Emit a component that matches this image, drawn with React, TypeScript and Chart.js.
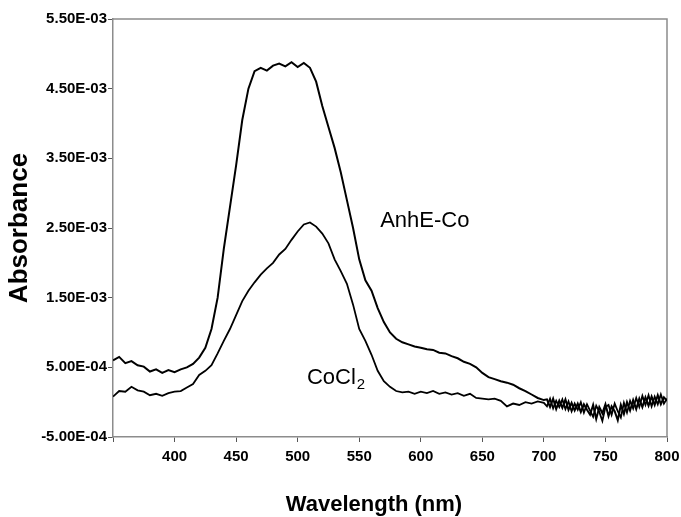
import React, { useEffect, useRef } from "react";
import { Chart, registerables } from "chart.js";

Chart.register(...registerables);

// Wavelength grid (nm)
const wavelengthsMain = [
  350, 355, 360, 365, 370, 375, 380, 385, 390, 395, 400, 405, 410, 415, 420, 425, 430, 435, 440, 445,
  450, 455, 460, 465, 470, 475, 480, 485, 490, 495, 500, 505, 510, 515, 520, 525, 530, 535, 540, 545,
  550, 555, 560, 565, 570, 575, 580, 585, 590, 595, 600, 605, 610, 615, 620, 625, 630, 635, 640, 645,
  650, 655, 660, 665, 670, 675, 680, 685, 690, 695, 700,
];
const wavelengthsTail = [
  702.5, 705, 707.5, 710, 712.5, 715, 717.5, 720, 722.5, 725, 727.5, 730, 732.5, 735, 737.5, 740, 742.5,
  745, 747.5, 750, 752.5, 755, 757.5, 760, 762.5, 765, 767.5, 770, 772.5, 775, 777.5, 780, 782.5, 785,
  787.5, 790, 792.5, 795, 797.5, 800,
];

// Absorbance values in units of 1E-03
const anheCoMain = [
  0.6, 0.65, 0.56, 0.59, 0.53, 0.51, 0.44, 0.47, 0.42, 0.46, 0.43, 0.47, 0.5, 0.55, 0.64, 0.78, 1.05, 1.5,
  2.2, 2.8, 3.4, 4.05, 4.5, 4.75, 4.8, 4.76, 4.83, 4.86, 4.82, 4.88, 4.81, 4.87, 4.8, 4.6, 4.25, 3.95,
  3.65, 3.3, 2.9, 2.5, 2.05, 1.75, 1.6, 1.35, 1.15, 1.0, 0.91, 0.86, 0.83, 0.8, 0.78, 0.76, 0.75, 0.71,
  0.7, 0.66, 0.63, 0.58, 0.55, 0.5, 0.42, 0.36, 0.33, 0.3, 0.28, 0.25, 0.2, 0.16, 0.11, 0.06, 0.03,
];
const anheCoTail = [
  0.04, -0.07, 0.05, -0.1, 0.02, -0.08, 0.04, -0.11, -0.01, -0.12, -0.02, -0.14, -0.03, -0.11, -0.18,
  -0.04, -0.24, -0.07, -0.16, -0.03, -0.2, -0.06, -0.13, -0.26, -0.04, -0.17, 0.0, -0.12, 0.03, -0.1,
  0.05, -0.07, 0.07, -0.05, 0.08, -0.04, 0.1, -0.03, 0.07, 0.02,
];
const cocl2Main = [
  0.08, 0.16, 0.15, 0.22, 0.17, 0.15, 0.1, 0.12, 0.09, 0.13, 0.15, 0.16, 0.21, 0.26, 0.39, 0.45, 0.53,
  0.7, 0.88, 1.05, 1.25, 1.45, 1.6, 1.72, 1.83, 1.92, 2.0, 2.12, 2.2, 2.33, 2.45, 2.55, 2.58, 2.52, 2.42,
  2.28, 2.05, 1.88, 1.7, 1.4, 1.05, 0.88, 0.68, 0.45, 0.3, 0.22, 0.16, 0.14, 0.15, 0.12, 0.15, 0.13, 0.16,
  0.12, 0.14, 0.11, 0.13, 0.09, 0.12, 0.06, 0.05, 0.04, 0.05, 0.02, -0.06, -0.02, -0.04, 0.0, -0.02, 0.01,
  -0.01,
];
const cocl2Tail = [
  -0.06, 0.05, -0.09, 0.02, -0.07, 0.04, -0.1, 0.01, -0.13, -0.02, -0.11, 0.0, -0.15, -0.03, -0.12,
  -0.21, -0.05, -0.14, -0.27, -0.07, -0.04, -0.18, -0.02, -0.13, -0.22, -0.01, -0.15, 0.02, -0.09, 0.06,
  -0.07, 0.09, -0.04, 0.1, -0.06, 0.08, -0.03, 0.11, -0.02, 0.05,
];
const VALUE_UNIT = 1e-3;

const seriesNames = ["AnhE-Co", "CoCl2"];
const xTickValues = [400, 450, 500, 550, 600, 650, 700, 750, 800];
const xTitle = "Wavelength (nm)";
const yTitle = "Absorbance";

// Curve label anchors (data coordinates)
const ANHE_LABEL = { x: 567, y: 2.6e-3 };
const COCL_LABEL = { x: 507.5, y: 0.35e-3 };
// X-axis title centre (data x)
const X_TITLE_AT = 562;

const FONT = '"Liberation Sans", Arial, Helvetica, sans-serif';

function toPoints(xs: number[], ys: number[]) {
  return xs.map((x, i) => ({ x, y: ys[i] * VALUE_UNIT }));
}

function formatSci(v: number) {
  const s = v.toExponential(2);
  const [m, e] = s.split("e");
  const sign = e[0] === "-" ? "-" : "+";
  const digits = e.replace(/^[+-]/, "").padStart(2, "0");
  return `${m}E${sign}${digits}`;
}

const framePlugin = {
  id: "frame",
  beforeDatasetsDraw(chart: any) {
    const { ctx, chartArea } = chart;
    ctx.save();
    ctx.strokeStyle = "#8c8c8c";
    ctx.lineWidth = 1.5;
    ctx.beginPath();
    ctx.moveTo(chartArea.left, chartArea.top);
    ctx.lineTo(chartArea.right, chartArea.top);
    ctx.lineTo(chartArea.right, chartArea.bottom);
    ctx.stroke();
    ctx.restore();
  },
};

const labelPlugin = {
  id: "curveLabels",
  afterDatasetsDraw(chart: any) {
    const { ctx, scales } = chart;
    const x = scales.x;
    const y = scales.y;
    ctx.save();
    ctx.fillStyle = "#000";
    ctx.textAlign = "left";
    ctx.textBaseline = "middle";
    ctx.font = `22px ${FONT}`;
    ctx.fillText("AnhE-Co", x.getPixelForValue(ANHE_LABEL.x), y.getPixelForValue(ANHE_LABEL.y));
    const cx = x.getPixelForValue(COCL_LABEL.x);
    const cy = y.getPixelForValue(COCL_LABEL.y);
    ctx.fillText("CoCl", cx, cy);
    const w = ctx.measureText("CoCl").width;
    ctx.font = `15px ${FONT}`;
    ctx.fillText("2", cx + w + 1, cy + 7);

    // x-axis title
    ctx.font = `bold 22px ${FONT}`;
    ctx.textAlign = "center";
    ctx.fillText(xTitle, x.getPixelForValue(X_TITLE_AT), x.bottom - 12);
    ctx.restore();
  },
};

export default function App() {
  const canvasRef = useRef<HTMLCanvasElement | null>(null);

  useEffect(() => {
    document.body.style.margin = "0";
    const canvas = canvasRef.current;
    if (!canvas) return;
    const chart = new Chart(canvas, {
      type: "line",
      data: {
        datasets: [
          {
            label: seriesNames[0],
            data: toPoints(wavelengthsMain.concat(wavelengthsTail), anheCoMain.concat(anheCoTail)),
            borderColor: "#000",
            borderWidth: 2,
            pointRadius: 0,
            tension: 0,
            fill: false,
          },
          {
            label: seriesNames[1],
            data: toPoints(wavelengthsMain.concat(wavelengthsTail), cocl2Main.concat(cocl2Tail)),
            borderColor: "#000",
            borderWidth: 1.8,
            pointRadius: 0,
            tension: 0,
            fill: false,
          },
        ],
      },
      options: {
        responsive: false,
        animation: false,
        layout: { padding: { top: 19, right: 14, bottom: 0, left: 0 } },
        plugins: {
          legend: { display: false },
          tooltip: { enabled: false },
        },
        scales: {
          x: {
            type: "linear",
            min: 350,
            max: 800,
            afterFit: (scale: any) => {
              scale.height = 80;
              scale.paddingRight = 0;
              scale.paddingLeft = 0;
            },
            afterBuildTicks: (scale: any) => {
              scale.ticks = [350].concat(xTickValues).map((v) => ({ value: v }));
            },
            ticks: {
              color: "#000",
              font: { family: FONT, size: 15, weight: "bold" },
              padding: 6,
              maxRotation: 0,
              autoSkip: false,
              callback: (v: any) => (xTickValues.includes(Number(v)) ? String(v) : ""),
            },
            grid: {
              drawOnChartArea: false,
              drawTicks: true,
              tickLength: 5,
              color: "#555",
            },
            border: { display: true, color: "#8c8c8c", width: 1.5 },
            title: { display: false },
          },
          y: {
            type: "linear",
            min: -0.0005,
            max: 0.0055,
            afterFit: (scale: any) => {
              scale.width = 113;
              scale.paddingTop = 0;
              scale.paddingBottom = 0;
            },
            ticks: {
              stepSize: 0.001,
              color: "#000",
              font: { family: FONT, size: 15, weight: "bold" },
              padding: 1,
              callback: (v: any) => formatSci(Number(v)),
            },
            grid: {
              drawOnChartArea: false,
              drawTicks: true,
              tickLength: 5,
              color: "#555",
            },
            border: { display: true, color: "#8c8c8c", width: 1.5 },
            title: {
              display: true,
              text: yTitle,
              color: "#000",
              font: { family: FONT, size: 26, weight: "bold", lineHeight: 1 },
              padding: { top: 7, bottom: 0 },
            },
          },
        },
      },
      plugins: [framePlugin, labelPlugin],
    });
    return () => chart.destroy();
  }, []);

  return (
    <div style={{ width: 681, height: 517 }}>
      <canvas ref={canvasRef} width={681} height={517} style={{ display: "block" }} />
    </div>
  );
}
